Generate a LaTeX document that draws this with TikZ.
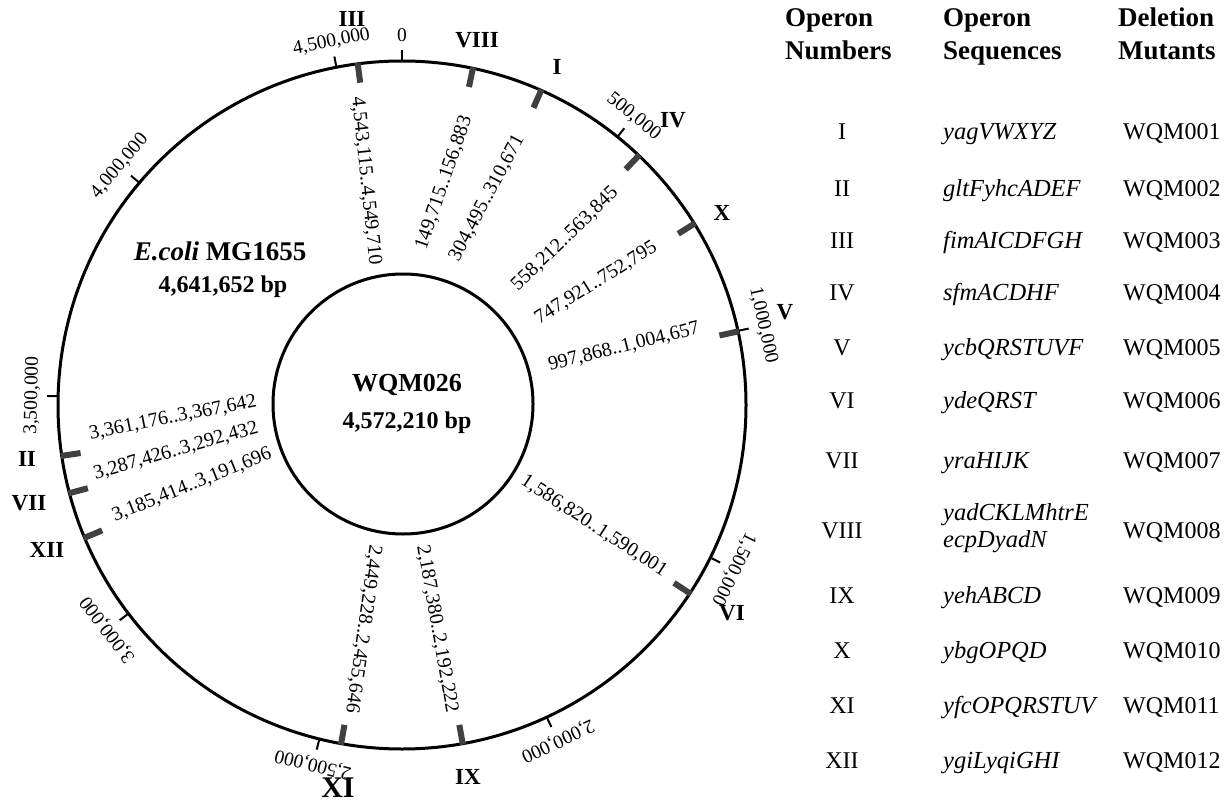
\documentclass[tikz,border=0pt]{standalone}
\usepackage{fontspec}
\setmainfont{Liberation Serif}
\usetikzlibrary{calc}
\begin{document}
\begin{tikzpicture}[x=1pt,y=-1pt,
  rng/.style={font=\fontsize{20}{22}\selectfont, inner sep=0pt},
  scl/.style={font=\fontsize{19.5}{21}\selectfont, inner sep=0pt},
  rom/.style={font=\fontsize{23}{25}\selectfont\bfseries, inner sep=0pt},
  bigrom/.style={font=\fontsize{30}{32}\selectfont\bfseries, inner sep=0pt},
  hdr/.style={font=\fontsize{27}{29}\selectfont\bfseries, anchor=base west, inner sep=0pt},
  cellc/.style={font=\fontsize{24}{26}\selectfont, anchor=base, inner sep=0pt},
  cellw/.style={font=\fontsize{24}{26}\selectfont, anchor=base west, inner sep=0pt},
  seqw/.style={font=\fontsize{24.5}{26}\selectfont\itshape, anchor=base west, inner sep=0pt},
  ring/.style={circle, draw, line width=3pt, inner sep=0pt, outer sep=0pt},
  marker/.style={line width=6pt, draw=black!75},
  tickmark/.style={line width=2pt}
]
\useasboundingbox (0,0) rectangle (1226,805);
\coordinate (C) at (402,405);
\node[ring, minimum size=688pt] (outer) at (C) {};
\node[ring, minimum size=260pt] (inner) at (403,404) {};

% scale ticks and labels
\foreach \k/\lab in {0/0, 1/{500,000}, 2/{1,000,000}, 3/{1,500,000}, 4/{2,000,000},
  5/{2,500,000}, 6/{3,000,000}, 7/{3,500,000}, 8/{4,000,000}, 9/{4,500,000}} {
  \pgfmathsetmacro\t{\k*38.77931}
  \draw[tickmark, shift={(C)}] (\t-90:344) -- (\t-90:355);
  \node[scl, rotate=-\t] (s\k) at ($(C)+(\t-90:370)$) {\lab};
}

% operon markers
\foreach \a in {352.61, 11.89, 23.86, 43.51, 58.20, 77.65, 123.19, 169.84, 190.20, 247.30, 255.16, 261.5} {
  \draw[marker, shift={(C)}] (\a-90:345) -- (\a-90:325);
}

% roman numeral labels
\node[rom] (rIII) at (352,19) {III};
\node[rom] (rVIII) at (477,40) {VIII};
\node[rom] (rI) at (557,67) {I};
\node[rom] (rIV) at (673,120) {IV};
\node[rom] (rX) at (722,213) {X};
\node[rom] (rV) at (785,312) {V};
\node[rom] (rVI) at (732,613) {VI};
\node[rom] (rIX) at (468,777) {IX};
\node[bigrom] (rXI) at (338,788) {XI};
\node[rom] (rXII) at (47,550) {XII};
\node[rom] (rVII) at (29,503) {VII};
\node[rom] (rII) at (27,459) {II};

% range labels
\node[rng, rotate=-84] (gIII) at (366,181) {4,543,115..4,549,710};
\node[rng, rotate=71] (gVIII) at (444,183) {149,715..156,883};
\node[rng, rotate=62] (gI) at (487,198) {304,495..310,671};
\node[rng, rotate=44] (gIV) at (565,239) {558,212..563,845};
\node[rng, rotate=32] (gX) at (596,283) {747,921..752,795};
\node[rng, rotate=14] (gV) at (624,347) {997,868..1,004,657};
\node[rng, rotate=-33] (gVI) at (594,526) {1,586,820..1,590,001};
\node[rng, rotate=-80] (gIX) at (437,629) {2,187,380..2,192,222};
\node[rng, rotate=-98] (gXI) at (363,629) {2,449,228..2,455,646};
\node[rng, rotate=11.5] (gII) at (173,418) {3,361,176..3,367,642};
\node[rng, rotate=16] (gVII) at (176,451) {3,287,426..3,292,432};
\node[rng, rotate=22] (gXII) at (192,485) {3,185,414..3,191,696};

% genome labels
\node[font=\fontsize{27}{29}\selectfont\bfseries, anchor=base, inner sep=0pt] (eco) at (220,260) {\textit{E.coli} MG1655};
\node[font=\fontsize{24}{26}\selectfont\bfseries, anchor=base, inner sep=0pt] (ecobp) at (223,292) {4,641,652 bp};
\node[font=\fontsize{26}{28}\selectfont\bfseries, anchor=base, inner sep=0pt] (wqm) at (407,391) {WQM026};
\node[font=\fontsize{24}{26}\selectfont\bfseries, anchor=base, inner sep=0pt] (wqmbp) at (407,428) {4,572,210 bp};

% table headers
\node[hdr] (h1a) at (785,27) {Operon};
\node[hdr] (h1b) at (785,60) {Numbers};
\node[hdr] (h2a) at (943,27) {Operon};
\node[hdr] (h2b) at (943,60) {Sequences};
\node[hdr] (h3a) at (1118,27) {Deletion};
\node[hdr] (h3b) at (1118,60) {Mutants};

% table rows
\foreach \n/\r/\s/\m/\yy in {1/I/yagVWXYZ/WQM001/140, 2/II/gltFyhcADEF/WQM002/197,
  3/III/fimAICDFGH/WQM003/248, 4/IV/sfmACDHF/WQM004/300, 5/V/ycbQRSTUVF/WQM005/355,
  6/VI/ydeQRST/WQM006/408, 7/VII/yraHIJK/WQM007/468, 9/IX/yehABCD/WQM009/603,
  10/X/ybgOPQD/WQM010/658, 11/XI/yfcOPQRSTUV/WQM011/713, 12/XII/ygiLyqiGHI/WQM012/768} {
  \node[cellc] (tn\n) at (842,\yy) {\r};
  \node[seqw] (ts\n) at (943,\yy) {\s};
  \node[cellw] (tm\n) at (1123,\yy) {\m};
}
\node[cellc] (tn8) at (842,538) {VIII};
\node[seqw] (ts8a) at (943,520) {yadCKLMhtrE};
\node[seqw] (ts8b) at (943,547) {ecpDyadN};
\node[cellw] (tm8) at (1123,538) {WQM008};
\end{tikzpicture}
\end{document}
